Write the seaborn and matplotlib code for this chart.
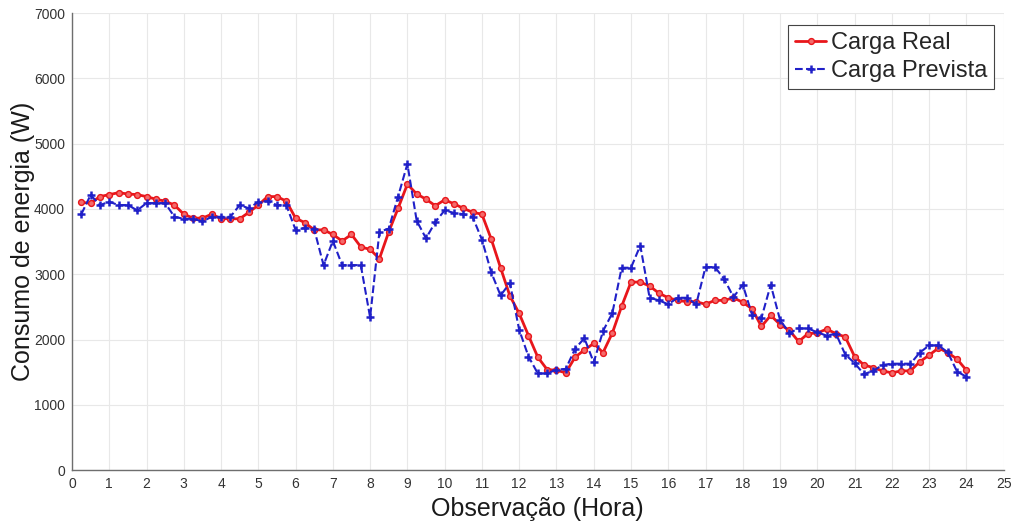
import numpy as np
import pandas as pd
import matplotlib
matplotlib.use("Agg")
import matplotlib.pyplot as plt
import seaborn as sns

# Measured load (W), every 15 minutes from 00:15 to 24:00
carga_real = [
    4100, 4090, 4190, 4220, 4250, 4230, 4220, 4190, 4150, 4120, 4060, 3920,
    3860, 3860, 3920, 3850, 3850, 3850, 3950, 4060, 4190, 4190, 4120, 3860,
    3790, 3680, 3680, 3610, 3510, 3610, 3420, 3380, 3240, 3650, 4010, 4380,
    4230, 4150, 4050, 4140, 4080, 4010, 3950, 3920, 3540, 3100, 2670, 2400,
    2060, 1730, 1540, 1530, 1490, 1730, 1840, 1940, 1800, 2100, 2510, 2880,
    2880, 2820, 2710, 2640, 2600, 2580, 2580, 2540, 2600, 2600, 2640, 2570,
    2470, 2200, 2370, 2230, 2140, 1970, 2090, 2100, 2160, 2090, 2040, 1740,
    1610, 1570, 1520, 1490, 1520, 1520, 1660, 1760, 1870, 1800, 1700, 1530,
]

# Forecast load (W), same time steps
carga_prevista = [
    3920, 4215, 4060, 4110, 4060, 4060, 3980, 4090, 4090, 4090, 3880, 3850,
    3850, 3810, 3880, 3880, 3880, 4060, 4010, 4110, 4120, 4060, 4060, 3680,
    3710, 3690, 3140, 3510, 3140, 3140, 3140, 2340, 3650, 3700, 4190, 4690,
    3820, 3550, 3800, 3980, 3940, 3920, 3880, 3530, 3030, 2675, 2866, 2150,
    1740, 1480, 1480, 1540, 1550, 1860, 2020, 1650, 2130, 2405, 3100, 3100,
    3440, 2640, 2600, 2540, 2640, 2640, 2540, 3110, 3110, 2930, 2650, 2840,
    2380, 2330, 2840, 2300, 2100, 2170, 2170, 2110, 2060, 2090, 1770, 1640,
    1470, 1520, 1610, 1630, 1630, 1630, 1800, 1910, 1910, 1805, 1510, 1430,
]

horas = np.arange(1, len(carga_real) + 1) * 0.25

x_ticks = list(range(0, 26))
y_ticks = [0, 1000, 2000, 3000, 4000, 5000, 6000, 7000]

df = pd.DataFrame({"hora": horas, "real": carga_real, "prevista": carga_prevista})

sns.set_theme(style="whitegrid")
plt.rcParams["font.family"] = ["Liberation Sans", "DejaVu Sans"]

fig = plt.figure(figsize=(10.21, 5.27), dpi=100)
ax = fig.add_axes([0.0705, 0.108, 0.9125, 0.867])

sns.lineplot(data=df, x="hora", y="real", ax=ax, color="#e8161b", linewidth=2,
             marker="o", markersize=4.2, markerfacecolor="#f46a6a",
             markeredgecolor="#e8161b", markeredgewidth=1,
             label="Carga Real")
sns.lineplot(data=df, x="hora", y="prevista", ax=ax, color="#2020c8", linewidth=1.5,
             linestyle="--", marker="+", markersize=6, markeredgewidth=1.8,
             markeredgecolor="#2020c8", label="Carga Prevista")

ax.set_xlim(0, 25)
ax.set_ylim(0, 7000)
ax.set_xticks(x_ticks)
ax.set_yticks(y_ticks)
ax.set_facecolor("white")
ax.grid(True, color="#e8e8e8", linewidth=0.8)
ax.set_axisbelow(True)

for side in ("top", "right"):
    ax.spines[side].set_visible(False)
for side in ("left", "bottom"):
    ax.spines[side].set_color("#6e6e6e")
    ax.spines[side].set_linewidth(1.0)

ax.tick_params(axis="both", direction="in", length=5, width=0.8, color="#6e6e6e",
               labelsize=10, labelcolor="#333333", pad=5)

ax.set_xlabel("Observação (Hora)", fontsize=18, color="#1a1a1a", labelpad=4)
ax.set_ylabel("Consumo de energia (W)", fontsize=18, color="#1a1a1a", labelpad=-0.5)

leg = ax.legend(loc="upper right", bbox_to_anchor=(0.990, 0.974), borderaxespad=0,
                fontsize=17, frameon=True, fancybox=False, framealpha=1,
                edgecolor="#444444", handlelength=1.3, handletextpad=0.2,
                borderpad=0.3, labelspacing=0.25)
leg.get_frame().set_linewidth(0.8)

fig.savefig("out.png", dpi=100, facecolor="white")
